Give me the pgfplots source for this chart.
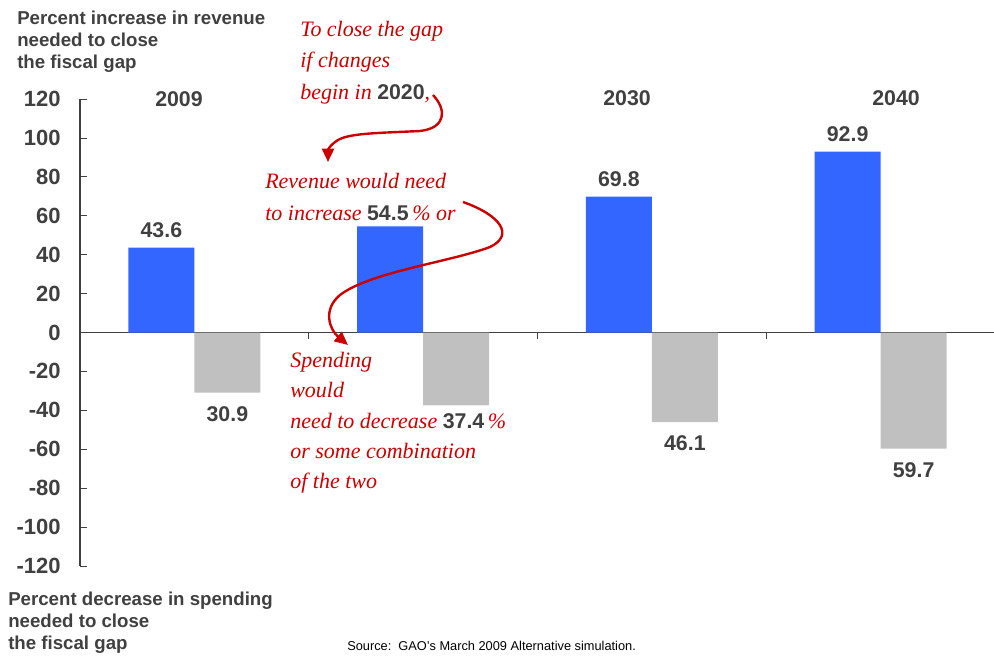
\documentclass[border=0pt]{standalone}
\usepackage{fontspec}
\setmainfont{Liberation Sans}
\newfontfamily\annofont{Liberation Serif}
\usepackage{pgfplots}
\pgfplotsset{compat=1.18}
\usetikzlibrary{arrows.meta}

\definecolor{barblue}{HTML}{3366FF}
\definecolor{bargray}{HTML}{C0C0C0}
\definecolor{txtgray}{HTML}{404040}
\definecolor{annored}{HTML}{CC0000}

% bold grey numbers used inside the red notes
\newcommand{\bnum}[1]{{\normalfont\fontsize{16}{19}\selectfont\bfseries\color{txtgray}#1}}

\begin{document}
\begin{tikzpicture}[
  ttl/.style={anchor=base west, inner sep=0, text=txtgray, font=\fontsize{14}{16}\selectfont\bfseries},
  note/.style={anchor=base west, inner sep=0, text=annored, font=\annofont\itshape\fontsize{16.5}{19}\selectfont},
  yr/.style={font=\fontsize{16}{19}\selectfont\bfseries, text=txtgray},
]
\useasboundingbox (0,0) rectangle (745.5pt,-492pt);

\begin{axis}[
  at={(60pt,-424.5pt)}, anchor=south west,
  scale only axis, width=686.25pt, height=350.25pt,
  xmin=0.5, xmax=4.5, ymin=-120, ymax=120,
  axis y line=left, axis x line=middle,
  axis line style={-, draw=txtgray, line width=0.8pt},
  xtick=\empty,
  ytick={-120,-100,...,120},
  yticklabels={-120,-100,-80,-60,-40,-20,0,20,40,60,80,100,120},
  tick align=inside, major tick length=5pt,
  tick style={draw=txtgray, line width=0.6pt},
  yticklabel style={font=\fontsize{16.5}{19}\selectfont\bfseries, text=txtgray, xshift=-11pt},
  ybar=0pt, bar width=49.5pt,
  nodes near coords, point meta=explicit symbolic,
  every node near coord/.append style={font=\fontsize{16}{19}\selectfont\bfseries, text=txtgray, inner sep=7pt},
  clip=false,
]
% revenue increase needed
\addplot[fill=barblue, draw=none] coordinates {(1,43.6) [43.6] (2,54.5) [] (3,69.8) [69.8] (4,92.9) [92.9]};
% spending decrease needed (labels below the bars)
\addplot[fill=bargray, draw=none, every node near coord/.append style={anchor=north, inner sep=10pt}]
  coordinates {(1,-30.9) [30.9] (2,-37.4) [] (3,-46.1) [46.1] (4,-59.7) [59.7]};
\pgfplotsinvokeforeach{1.5,2.5,3.5,4.5}{
  \draw[txtgray, line width=0.6pt] (axis cs:#1,0) -- ++(0pt,-4.5pt);
}
\end{axis}

\begin{scope}[x=0.75pt,y=-0.75pt]
  % axis titles
  \node[ttl] at (17,25) {Percent increase in revenue};
  \node[ttl] at (17,47) {needed to close};
  \node[ttl] at (17,69) {the fiscal gap};
  \node[ttl] at (8,605) {Percent decrease in spending};
  \node[ttl] at (8,627) {needed to close};
  \node[ttl] at (8,649) {the fiscal gap};
  \node[anchor=base west, inner sep=0, font=\fontsize{9.6}{11}\selectfont] at (347,650)
    {Source:~~GAO’s March 2009 Alternative simulation.};

  % years
  \node[yr] at (179,99) {2009};
  \node[yr] at (627,98) {2030};
  \node[yr] at (896,98) {2040};

  % red notes
  \node[note] at (300,37) {To close the gap};
  \node[note] at (300,68) {if changes};
  \node[note] at (300,100) {begin in \bnum{2020},};
  \node[note] at (265,188) {Revenue would need};
  \node[note] at (265,220) {to increase \bnum{54.5}\,\% or};
  \node[note] at (290,367) {Spending};
  \node[note] at (290,397) {would};
  \node[note] at (290,428) {need to decrease \bnum{37.4}\,\%};
  \node[note] at (290,458) {or some combination};
  \node[note] at (290,488) {of the two};

  \draw[annored, line width=1.8pt, -{Triangle[length=10pt,width=9pt]}]
    (433,95) .. controls (447,110) and (446,128) .. (420,131)
    .. controls (380,133) and (350,133) .. (338,140)
    .. controls (330,145) and (328,150) .. (328,162);
  \draw[annored, line width=1.8pt, -{Triangle[length=10pt,width=9pt]}]
    (463,202) .. controls (500,215) and (515,235) .. (490,247)
    .. controls (450,262) and (370,272) .. (340,295)
    .. controls (322,310) and (330,330) .. (348,345);
\end{scope}
\end{tikzpicture}
\end{document}
